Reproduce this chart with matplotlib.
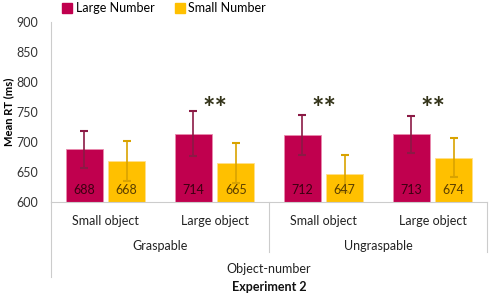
import numpy as np
import matplotlib.pyplot as plt
from matplotlib.patches import Patch

plt.rcParams['font.family'] = ['Lato', 'DejaVu Sans']

# data
objects = ['Small object', 'Large object', 'Small object', 'Large object']
groups = ['Graspable', 'Ungraspable']
large_rt = [688, 714, 712, 713]
small_rt = [668, 665, 647, 674]
large_err = [31, 37, 33, 31]
small_err = [33, 34, 31, 32]
signif = ['', '**', '**', '**']

c_large = '#C0004E'
c_small = '#FFC000'

fig = plt.figure(figsize=(4.9, 2.97), dpi=100)
ax = fig.add_axes([0.104, 0.320, 0.890, 0.606])

x = np.arange(len(objects))
w = 0.34
off = 0.195
ax.bar(x - off, np.array(large_rt) - 600, w, bottom=600, color=c_large, edgecolor='#E98AAE', linewidth=0.6)
ax.bar(x + off, np.array(small_rt) - 600, w, bottom=600, color=c_small, edgecolor='#FFE08A', linewidth=0.6)
ax.errorbar(x - off, large_rt, yerr=large_err, fmt='none', ecolor='#8B1A45', elinewidth=1.2, capsize=3, capthick=1.5)
ax.errorbar(x + off, small_rt, yerr=small_err, fmt='none', ecolor='#D9A300', elinewidth=1.2, capsize=3, capthick=1.5)

for i in range(len(objects)):
    ax.text(x[i] - off, 620, str(large_rt[i]), ha='center', va='center', fontsize=9, color='#3A0010')
    ax.text(x[i] + off, 620, str(small_rt[i]), ha='center', va='center', fontsize=9, color='#5A3E00')
    if signif[i]:
        ax.text(x[i], 755, signif[i], ha='center', va='center', fontsize=21, fontweight='bold', color='#333319')

ax.set_xlim(-0.5, 3.5)
ax.set_ylim(600, 900)
ax.set_yticks(np.arange(600, 901, 50))
ax.tick_params(axis='y', length=0, labelsize=9, colors='#333333', pad=9)
ax.tick_params(axis='x', length=0, labelbottom=False)
ax.set_ylabel('Mean RT (ms)', fontsize=8, fontweight='bold', labelpad=2)

for s in ['top', 'right']:
    ax.spines[s].set_visible(False)
ax.spines['left'].set_color('#CCCCCC')
ax.spines['bottom'].set_color('#CCCCCC')
ax.spines['left'].set_bounds(600, 900)

# multi-level category axis
tr = ax.get_xaxis_transform()
for i, lab in enumerate(objects):
    ax.text(x[i], -0.105, lab, transform=tr, ha='center', va='center', fontsize=9, color='#222222')
ax.text(0.5, -0.245, groups[0], transform=tr, ha='center', va='center', fontsize=9, color='#222222')
ax.text(2.5, -0.245, groups[1], transform=tr, ha='center', va='center', fontsize=9, color='#222222')
ax.text(1.5, -0.375, 'Object-number', transform=tr, ha='center', va='center', fontsize=9, color='#222222')
ax.text(1.5, -0.47, 'Experiment 2', transform=tr, ha='center', va='center', fontsize=9, fontweight='bold', color='#111111')

ax.plot([-0.5, -0.5], [0, -0.417], transform=tr, color='#CCCCCC', lw=0.8, clip_on=False)
ax.plot([1.5, 1.5], [0, -0.278], transform=tr, color='#CCCCCC', lw=0.8, clip_on=False)
ax.plot([3.5, 3.5], [0, -0.278], transform=tr, color='#CCCCCC', lw=0.8, clip_on=False)

handles = [Patch(color=c_large, label='Large Number'), Patch(color=c_small, label='Small Number')]
fig.legend(handles=handles, loc='center', bbox_to_anchor=(0.335, 0.972), ncol=2, frameon=False,
           fontsize=9, handlelength=0.8, handleheight=0.8, handletextpad=0.3, columnspacing=1.6)

fig.savefig('out.png', dpi=100)
